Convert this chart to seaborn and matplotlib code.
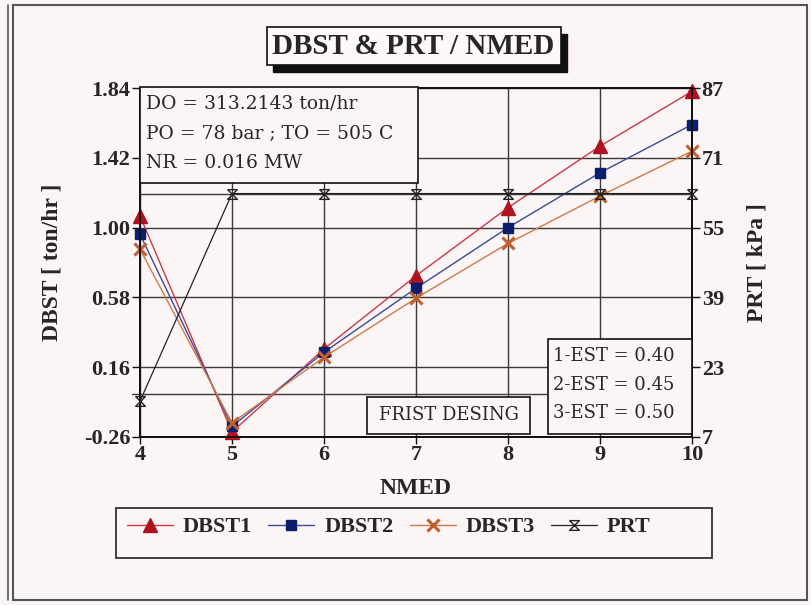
import numpy as np
import pandas as pd
import matplotlib
matplotlib.use("Agg")
import matplotlib.pyplot as plt
from matplotlib.patches import Rectangle
from matplotlib.path import Path
import seaborn as sns

# ---------------- data ----------------
nmed = [4, 5, 6, 7, 8, 9, 10]
dbst1 = [1.07, -0.23, 0.27, 0.71, 1.12, 1.49, 1.82]
dbst2 = [0.96, -0.196, 0.25, 0.635, 1.00, 1.33, 1.62]
dbst3 = [0.87, -0.175, 0.22, 0.575, 0.905, 1.19, 1.46]
prt = [15.2, 62.8, 62.8, 62.8, 62.8, 62.8, 62.8]

left_ticks = [-0.26, 0.16, 0.58, 1.00, 1.42, 1.84]
right_ticks = [7, 23, 39, 55, 71, 87]
x_ticks = [4, 5, 6, 7, 8, 9, 10]

title = "DBST & PRT / NMED"
info_lines = ["DO = 313.2143 ton/hr", "PO = 78 bar ; TO = 505 C", "NR = 0.016 MW"]
est_lines = ["1-EST = 0.40", "2-EST = 0.45", "3-EST = 0.50"]
design_label = "FRIST DESING"

# ---------------- style ----------------
sns.set_style("ticks")
BG = "#FCF5F5"
SERIF = ["Liberation Serif", "DejaVu Serif"]
WIDE = ["DejaVu Serif", "Liberation Serif"]
plt.rcParams["font.family"] = SERIF
plt.rcParams["font.weight"] = "bold"

W, H = 811, 605
fig = plt.figure(figsize=(W / 100, H / 100), dpi=100, facecolor=BG)

def fx(x):
    return x / W

def fy(y):
    return 1 - y / H

ax_l, ax_r, ax_t, ax_b = 140, 692, 88, 437
ax = fig.add_axes([fx(ax_l), fy(ax_b), fx(ax_r) - fx(ax_l), fy(ax_t) - fy(ax_b)])
ax.set_facecolor(BG)
ax2 = ax.twinx()

grid_c = "#3a3a3a"

# gridlines
for xv in x_ticks:
    ax.axvline(xv, color=grid_c, lw=1.0, zorder=1)
for yv in left_ticks:
    ax.axhline(yv, color=grid_c, lw=1.0, zorder=1)
ax.axhline(0, xmin=-0.015, color=grid_c, lw=1.0, zorder=1, clip_on=False)
ax2.axhline(prt[-1], color=grid_c, lw=1.0, zorder=1)

df = pd.DataFrame({"NMED": nmed, "DBST1": dbst1, "DBST2": dbst2, "DBST3": dbst3, "PRT": prt})

hour = Path([(-1, 1), (1, 1), (-1, -1), (1, -1), (-1, 1)],
            [Path.MOVETO, Path.LINETO, Path.LINETO, Path.LINETO, Path.LINETO])

series = [
    ("DBST1", "#C83A48", "#B0121F", "^", 10, 1.0),
    ("DBST2", "#3A4A9A", "#0B1E6E", "s", 7.5, 1.0),
    ("DBST3", "#D07A4A", "#C0602E", "x", 8, 2.2),
]
for name, lc, mc, mk, ms, mew in series:
    sns.lineplot(data=df, x="NMED", y=name, ax=ax, color=lc, lw=1.0, marker=mk,
                 markersize=ms, markerfacecolor=mc, markeredgecolor=mc,
                 markeredgewidth=mew, label=name, legend=False, clip_on=False, zorder=5)

sns.lineplot(data=df, x="NMED", y="PRT", ax=ax2, color="#222222", lw=0.9, marker=hour,
             markersize=7, markerfacecolor="none", markeredgecolor="#222222",
             markeredgewidth=1.0, label="PRT", legend=False, clip_on=False, zorder=5)

ax.set_xlim(4, 10)
ax.set_ylim(-0.26, 1.84)
ax2.set_ylim(7, 87)
ax.set_xticks(x_ticks)
ax.set_xticklabels([str(v) for v in x_ticks])
ax.set_yticks(left_ticks)
ax.set_yticklabels([f"{v:.2f}" for v in left_ticks])
ax2.set_yticks(right_ticks)
ax2.set_yticklabels([str(v) for v in right_ticks])

for a in (ax, ax2):
    for s in a.spines.values():
        s.set_color("#111111")
        s.set_linewidth(1.3)
    a.tick_params(labelsize=16, width=1.0, length=6, color="#111111", pad=1)
ax.tick_params(axis="x", length=5, pad=1)

ax.set_xlabel("NMED", fontsize=17, fontweight="bold", labelpad=9)
ax.set_ylabel("DBST [ ton/hr ]", fontsize=17, fontweight="bold", labelpad=15)
ax2.set_ylabel("PRT [ kPa ]", fontsize=17, fontweight="bold", labelpad=16)
ax.grid(False)
ax2.grid(False)

# ---------------- figure decorations ----------------
def rect(x0, y0, x1, y1, **kw):
    r = Rectangle((fx(x0), fy(y1)), fx(x1) - fx(x0), fy(y0) - fy(y1),
                  transform=fig.transFigure, **kw)
    fig.patches.append(r)
    return r

# outer frame
rect(13, 5, 807, 600, fill=False, edgecolor="#555555", lw=1.5, zorder=0.5)
fig.add_artist(plt.Line2D([fx(8), fx(8)], [fy(5), fy(600)], transform=fig.transFigure,
                          color="#555555", lw=1.2))

# title with shadow
rect(273, 34, 567, 72, facecolor="#111111", edgecolor="#111111", lw=1, zorder=3)
rect(267, 27, 561, 65, facecolor="#FEF9F9", edgecolor="#111111", lw=1.2, zorder=4)
fig.text(fx(413), fy(46), title, ha="center", va="center", fontsize=21,
         fontweight="bold", zorder=5)

# info box
rect(140, 87, 418, 183, facecolor=BG, edgecolor="#111111", lw=1.2, zorder=3)
for i, t in enumerate(info_lines):
    fig.text(fx(146), fy(104 + 29.5 * i), t, ha="left", va="center", fontsize=13.5,
             family=WIDE, fontweight="normal", zorder=5)

# EST box
rect(548, 339, 692, 434, facecolor=BG, edgecolor="#111111", lw=1.2, zorder=3)
for i, t in enumerate(est_lines):
    fig.text(fx(553), fy(356 + 28.5 * i), t, ha="left", va="center", fontsize=13,
             family=WIDE, fontweight="normal", zorder=5)

# design box
rect(367, 397, 530, 434, facecolor=BG, edgecolor="#111111", lw=1.2, zorder=3)
fig.text(fx(448.5), fy(415), design_label, ha="center", va="center", fontsize=13,
         family=WIDE, fontweight="normal", zorder=5)

# legend
h1, l1 = ax.get_legend_handles_labels()
h2, l2 = ax2.get_legend_handles_labels()
rect(116, 508, 712, 558, fill=False, edgecolor="#333333", lw=1.3, zorder=3)
fig.legend(h1 + h2, l1 + l2, loc="center left", bbox_to_anchor=(fx(127), fy(527)),
           ncol=4, frameon=False, prop={"size": 16, "weight": "bold"},
           handlelength=2.07, handletextpad=0.45, columnspacing=0.72,
           borderaxespad=0, borderpad=0)

fig.savefig("out.png", dpi=100, facecolor=BG)
